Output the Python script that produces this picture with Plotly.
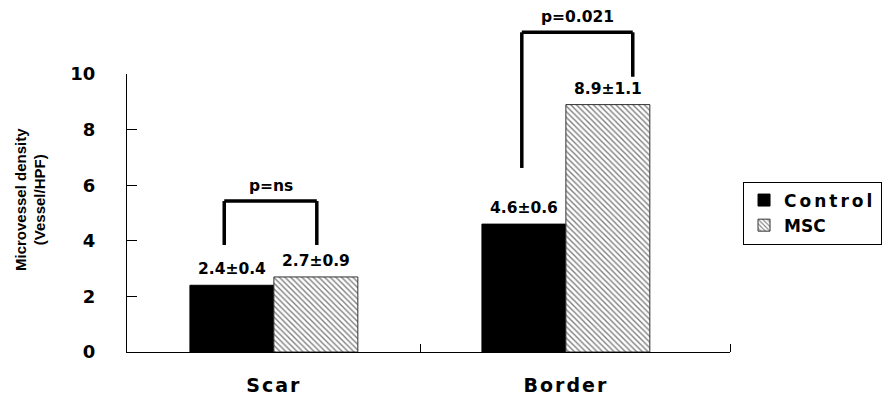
import plotly.graph_objects as go

categories = ["Scar", "Border"]
control_mean = [2.4, 4.6]
control_sem = [0.4, 0.6]
msc_mean = [2.7, 8.9]
msc_sem = [0.9, 1.1]
p_labels = ["p=ns", "p=0.021"]
# bracket geometry (data units): left x offset, right x offset, left bottom y, right bottom y, top y
bracket_left = [-0.17, -0.151]
bracket_right = [0.147, 0.229]
bracket_left_bottom = [3.85, 6.62]
bracket_right_bottom = [3.85, 9.9]
bracket_top = [5.43, 11.5]
y_ticks = [0, 2, 4, 6, 8, 10]

X_RANGE = [-0.503, 1.562]
Y_RANGE = [0, 10]
xpos = list(range(len(categories)))
WIDE = "DejaVu Sans, Verdana, sans-serif"
NARROW = "Liberation Sans Narrow, Arial Narrow, sans-serif"


def xd(v):
    return (v - X_RANGE[0]) / (X_RANGE[1] - X_RANGE[0])


def yd(v):
    return (v - Y_RANGE[0]) / (Y_RANGE[1] - Y_RANGE[0])


def spaced(t, px=3):
    return f'<span style="letter-spacing:{px}px">{t}</span>'


fig = go.Figure()
fig.add_trace(go.Bar(
    x=xpos, y=control_mean, name=spaced("Control", 3),
    marker=dict(color="black", line=dict(color="black", width=1)),
))
fig.add_trace(go.Bar(
    x=xpos, y=msc_mean, name="MSC",
    marker=dict(color="white", line=dict(color="#333333", width=1),
                pattern=dict(shape="\\", fgcolor="black", bgcolor="white",
                             size=4, solidity=0.35)),
))

half = 0.575 / 4
lbl_font = dict(family=WIDE, size=15.5, color="black", weight="bold")
for i in xpos:
    for off, m, s in [(-half, control_mean[i], control_sem[i]), (half, msc_mean[i], msc_sem[i])]:
        fig.add_annotation(x=i + off, y=m, text=f"{m}±{s}", showarrow=False,
                           xanchor="center", yanchor="bottom", yshift=5, font=lbl_font)
    xl = xd(i + bracket_left[i])
    xr = xd(i + bracket_right[i])
    yt = yd(bracket_top[i])
    line = dict(color="black", width=3.5)
    for (x0, y0, x1, y1) in [(xl, yd(bracket_left_bottom[i]), xl, yt),
                             (xl, yt, xr, yt),
                             (xr, yt, xr, yd(bracket_right_bottom[i]))]:
        fig.add_shape(type="line", xref="x domain", yref="y domain",
                      x0=x0, y0=y0, x1=x1, y1=y1, line=line, layer="above")
    fig.add_annotation(xref="x domain", yref="y domain", x=(xl + xr) / 2, y=yt,
                       text=p_labels[i], showarrow=False, xanchor="center",
                       yanchor="bottom", yshift=4, font=lbl_font)

fig.add_annotation(xref="paper", yref="paper", x=-0.161, y=0.55,
                   text="Microvessel density<br>(Vessel/HPF)", showarrow=False,
                   textangle=-90, xanchor="center", yanchor="middle",
                   font=dict(family=NARROW, size=15, color="black", weight="bold"))

# page body has an 8px default margin, so the figure is sized/offset to compensate
fig.update_layout(
    width=885, height=390,
    margin=dict(l=119, r=163, t=66, b=46, autoexpand=False),
    paper_bgcolor="white", plot_bgcolor="white",
    barmode="group", bargap=0.425, bargroupgap=0,
    font=dict(family=WIDE, color="black", weight="bold"),
    showlegend=True,
    legend=dict(x=1.0216, y=0.5, xanchor="left", yanchor="middle",
                bordercolor="black", borderwidth=1, bgcolor="white",
                font=dict(family=WIDE, size=17, color="black", weight="bold"),
                tracegroupgap=0, itemwidth=30),
    xaxis=dict(range=X_RANGE, tickvals=xpos, ticktext=[spaced(c, 2) for c in categories],
               ticks="", showline=True, linecolor="black", linewidth=1,
               showgrid=False, zeroline=False, automargin=False,
               tickfont=dict(family=WIDE, size=19, color="black", weight="bold"),
               ticklabelstandoff=16,
               minor=dict(tickvals=[0.503, 1.562], ticks="inside", ticklen=8,
                          tickcolor="black", tickwidth=1, showgrid=False)),
    yaxis=dict(range=Y_RANGE, tickvals=y_ticks, ticks="inside", ticklen=10,
               tickcolor="black", showline=True, linecolor="black", linewidth=1,
               showgrid=False, zeroline=False, automargin=False,
               tickfont=dict(family=WIDE, size=18, color="black", weight="bold"),
               ticklabelstandoff=27),
)

fig.write_html("out.html")
